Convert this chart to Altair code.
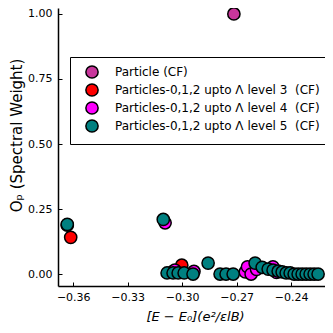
import altair as alt
import pandas as pd

labels = [
    "Particle (CF)",
    "Particles-0,1,2 upto Λ level 3\u00a0 (CF)",
    "Particles-0,1,2 upto Λ level 4\u00a0 (CF)",
    "Particles-0,1,2 upto Λ level 5\u00a0 (CF)",
]
colors = ["#C8369B", "#FF0000", "#FF00FF", "#008080"]

particle_x = [-0.2715]
particle_y = [1.0]

lvl3_x = [-0.3614, -0.3002, -0.3050, -0.2940, -0.2620]
lvl3_y = [0.141, 0.034, 0.010, 0.005, 0.004]

lvl4_x = [-0.3633, -0.3094, -0.3040, -0.2935, -0.2652, -0.2640, -0.2620, -0.2590, -0.2500, -0.2480]
lvl4_y = [0.188, 0.197, 0.015, 0.010, 0.008, 0.028, 0.0, 0.018, 0.028, 0.006]

lvl5_x = [-0.3633, -0.3104, -0.3083, -0.3050, -0.3022, -0.2989, -0.2940, -0.2857,
          -0.2791, -0.2758, -0.2719, -0.2598, -0.2559, -0.2526, -0.2499, -0.2471,
          -0.2449, -0.2427, -0.2405, -0.2383, -0.2361, -0.2339, -0.2317, -0.2295,
          -0.2273, -0.2251]
lvl5_y = [0.191, 0.210, 0.004, 0.004, 0.004, 0.004, 0.0, 0.042,
          0.0, 0.0, 0.0, 0.042, 0.026, 0.019, 0.015, 0.011,
          0.008, 0.004, 0.004, 0.0, 0.0, 0.0, 0.0, 0.0,
          0.0, 0.0]

x_ticks = [-0.36, -0.33, -0.30, -0.27, -0.24]
y_ticks = [0.0, 0.25, 0.5, 0.75, 1.0]

rows = []
k = 0
for lab, xs, ys in zip(labels, [particle_x, lvl3_x, lvl4_x, lvl5_x],
                       [particle_y, lvl3_y, lvl4_y, lvl5_y]):
    for x, y in zip(xs, ys):
        rows.append({"E": x, "O": y, "series": lab, "k": k})
        k += 1
df = pd.DataFrame(rows)

xscale = alt.Scale(domain=[-0.3684, -0.2213], nice=False, zero=False)
yscale = alt.Scale(domain=[-0.046, 1.023], nice=False, zero=False)

base = alt.Chart(df)

points = base.mark_circle(size=150, opacity=1, stroke="black", strokeWidth=1.5, clip=False).encode(
    x=alt.X("E:Q", scale=xscale,
            axis=alt.Axis(values=x_ticks, format=".2f", ticks=False, labelPadding=5, grid=False,
                          title="[E − E₀](e²/εlB)", titleFontStyle="italic", titleFontSize=13,
                          titleX=137, titleY=30, titleBaseline="middle", titleAlign="center")),
    y=alt.Y("O:Q", scale=yscale,
            axis=alt.Axis(values=y_ticks, format=".2f", ticks=False, labelPadding=6, grid=False,
                          title="Oₚ (Spectral Weight)", titleFontSize=15,
                          titleX=-42, titleY=127, titleAngle=270,
                          titleBaseline="middle", titleAlign="center")),
    color=alt.Color("series:N", sort=labels,
                    scale=alt.Scale(domain=labels, range=colors),
                    legend=alt.Legend(title=None, orient="none", legendX=12, legendY=49,
                                      strokeColor="black", fillColor="white", padding=8,
                                      symbolType="circle", symbolSize=150,
                                      symbolStrokeColor="black", symbolStrokeWidth=1.5,
                                      symbolOffset=7, labelOffset=16, rowPadding=-2,
                                      labelFontSize=12, labelFont="DejaVu Sans",
                                      labelColor="black", cornerRadius=0, labelLimit=400)),
    order=alt.Order("k:Q"),
)

tick_layer = base.mark_circle(opacity=0).encode(
    x=alt.X("E:Q", scale=xscale,
            axis=alt.Axis(values=x_ticks, labels=False, domain=False, title=None, grid=False,
                          tickSize=4, offset=-4, orient="bottom", tickColor="black", tickWidth=1)),
    y=alt.Y("O:Q", scale=yscale,
            axis=alt.Axis(values=y_ticks, labels=False, domain=False, title=None, grid=False,
                          tickSize=4, offset=-4, orient="left", tickColor="black", tickWidth=1)),
)

chart = alt.layer(points, tick_layer).resolve_axis(
    x="independent", y="independent"
).properties(
    width=267, height=278,
    autosize=alt.AutoSizeParams(type="none"),
    padding={"left": 50, "top": 0, "right": 0, "bottom": 39},
).configure_view(stroke=None).configure_axis(
    labelFont="DejaVu Sans", labelFontSize=11, labelColor="black",
    titleFont="DejaVu Sans", titleFontWeight="normal", titleColor="black",
    domainColor="black", domainWidth=1.5,
)

chart.save("out.html", embed_options={"renderer": "svg", "actions": False})
